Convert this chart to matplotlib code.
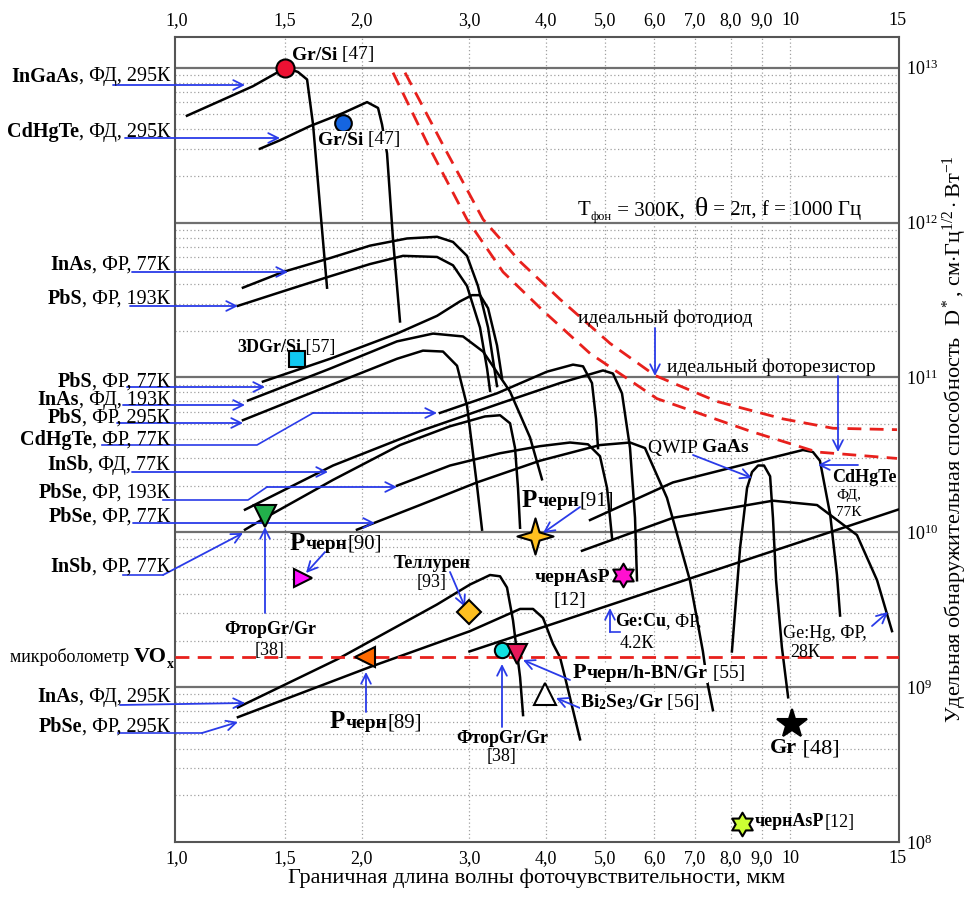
import matplotlib.pyplot as plt
from matplotlib.lines import Line2D
from matplotlib.path import Path
from matplotlib.ticker import NullLocator

plt.rcParams['font.family'] = ['Liberation Serif', 'DejaVu Serif']
plt.rcParams['mathtext.fontset'] = 'custom'
plt.rcParams['mathtext.rm'] = 'Liberation Serif'
plt.rcParams['mathtext.it'] = 'Liberation Serif:italic'
plt.rcParams['mathtext.bf'] = 'Liberation Serif:bold'

# cutoff wavelength (um) vs detectivity D* (cm Hz^1/2 / W)
ingaas_fd295_wl = [1.038, 1.175, 1.33, 1.456, 1.50, 1.575, 1.63, 1.667, 1.711, 1.757]
ingaas_fd295_d = [4.9e12, 6.1e12, 7.6e12, 9.3e12, 1.0e13, 9.4e12, 8.4e12, 4.3e12, 1.28e12, 3.8e11]

cdhgte_fd295_wl = [1.366, 1.472, 1.648, 1.866, 2.042, 2.128, 2.16, 2.201, 2.251, 2.311]
cdhgte_fd295_d = [3.0e12, 3.4e12, 4.2e12, 5.1e12, 6.0e12, 5.5e12, 4.3e12, 2.8e12, 7.8e11, 2.3e11]

inas_fr77_wl = [1.281, 1.489, 1.777, 2.065, 2.373, 2.656, 2.82, 2.972, 3.097, 3.217, 3.327]
inas_fr77_d = [3.8e11, 4.8e11, 5.9e11, 7.1e11, 7.9e11, 8.1e11, 7.5e11, 6.1e11, 3.9e11, 2.1e11, 8.8e10]

pbs_fr193_wl = [1.257, 1.489, 1.777, 2.065, 2.337, 2.656, 2.82, 2.972, 3.121, 3.205, 3.241]
pbs_fr193_d = [2.9e11, 3.6e11, 4.5e11, 5.4e11, 6.1e11, 6.0e11, 5.3e11, 3.9e11, 2.1e11, 1.14e11, 8.2e10]

pbs_fr77_wl = [1.381, 1.777, 2.285, 2.656, 2.895, 3.029, 3.121, 3.217, 3.327, 3.39]
pbs_fr77_d = [9.4e10, 1.32e11, 1.92e11, 2.5e11, 3.1e11, 3.4e11, 3.4e11, 2.8e11, 1.61e11, 9.9e10]

inas_fd193_wl = [1.306, 1.777, 2.285, 2.616, 2.928, 3.157, 3.494, 3.766, 3.939]
inas_fd193_d = [7.1e10, 1.14e11, 1.71e11, 1.92e11, 1.84e11, 1.47e11, 8.1e10, 4.1e10, 2.2e10]

pbs_fr295_wl = [1.281, 1.777, 2.285, 2.519, 2.716, 2.863, 2.972, 3.086, 3.145]
pbs_fr295_d = [5.3e10, 8.9e10, 1.32e11, 1.49e11, 1.47e11, 1.19e11, 6.6e10, 2.0e10, 1.04e10]

cdhgte_fr77_wl = [2.685, 3.327, 4.014, 4.426, 4.596, 4.753, 4.826, 4.862]
cdhgte_fr77_d = [5.9e10, 7.9e10, 1.09e11, 1.21e11, 1.18e11, 9.2e10, 5.4e10, 3.5e10]

insb_fd77_wl = [1.291, 1.797, 2.491, 3.365, 4.215, 4.954, 5.143, 5.32, 5.483, 5.587, 5.629]
insb_fd77_d = [1.40e10, 2.7e10, 4.5e10, 6.8e10, 9.2e10, 1.11e11, 1.06e11, 7.9e10, 3.5e10, 1.24e10, 4.9e9]

pbse_fr193_wl = [2.285, 2.789, 3.365, 3.911, 4.377, 4.683, 4.898, 5.03, 5.125]
pbse_fr193_d = [2.0e10, 2.7e10, 3.24e10, 3.6e10, 3.8e10, 3.7e10, 3.1e10, 1.93e10, 9.2e9]

pbse_fr77_wl = [1.966, 2.491, 3.086, 3.911, 4.898, 5.483, 5.80, 6.299, 6.866, 7.21, 7.319, 7.486]
pbse_fr77_d = [1.04e10, 1.5e10, 2.1e10, 2.9e10, 3.66e10, 3.8e10, 3.5e10, 1.67e10, 4.9e9, 1.7e9, 1.11e9, 7.1e8]

insb_fr77_wl = [1.291, 1.392, 1.797, 2.311, 2.789, 3.18, 3.365, 3.494, 3.56, 3.60, 3.628]
insb_fr77_d = [1.04e10, 1.24e10, 2.18e10, 3.66e10, 4.84e10, 5.6e10, 5.7e10, 5.06e10, 3.5e10, 1.93e10, 1.07e10]

inas_fd295_wl = [1.257, 1.824, 2.656, 3.006, 3.241, 3.365, 3.454, 3.533, 3.628, 3.669]
inas_fd295_d = [7.4e8, 1.51e9, 3.42e9, 4.6e9, 5.3e9, 5.2e9, 4.4e9, 2.7e9, 1.16e9, 6.6e8]

pbse_fr295_wl = [1.257, 2.065, 3.006, 3.628, 3.809, 3.954, 4.106, 4.215, 4.295, 4.426, 4.545]
pbse_fr295_d = [6.4e8, 1.35e9, 2.3e9, 3.2e9, 3.2e9, 2.8e9, 1.9e9, 1.56e9, 1.16e9, 7.1e8, 4.6e8]

gecu_fr4_wl = [3.0, 15.0]
gecu_fr4_d = [1.7e9, 1.4e10]

qwip_gaas_wl = [8.04, 8.29, 8.51, 8.67, 8.87, 9.07, 9.28, 9.38, 9.49, 9.70, 9.93]
qwip_gaas_d = [1.7e9, 7.9e9, 1.93e10, 2.45e10, 2.7e10, 2.7e10, 2.3e10, 1.24e10, 4.9e9, 1.81e9, 8.6e8]

cdhgte_fd77_wl = [4.718, 6.443, 8.29, 10.50, 10.90, 11.19, 11.63, 11.93, 12.07]
cdhgte_fd77_d = [1.2e10, 2.1e10, 2.7e10, 3.4e10, 3.3e10, 2.9e10, 1.30e10, 5.3e9, 2.9e9]

gehg_fr28_wl = [4.578, 6.443, 9.38, 11.07, 12.86, 13.87, 14.67]
gehg_fr28_d = [7.6e9, 1.24e10, 1.60e10, 1.50e10, 9.6e9, 4.9e9, 2.3e9]

# background-limited limits, T_bg = 300 K
ideal_pd_wl = [2.355, 2.736, 3.157, 3.628, 4.215, 5.087, 6.023, 7.60, 9.74, 11.75, 14.95]
ideal_pd_d = [9.3e12, 3.0e12, 1.05e12, 5.6e11, 3.2e11, 1.66e11, 1.03e11, 7.0e10, 5.4e10, 4.7e10, 4.6e10]
ideal_pr_wl = [2.251, 2.586, 2.972, 3.403, 3.954, 4.718, 6.067, 8.61, 11.07, 14.95]
ideal_pr_d = [9.3e12, 3.0e12, 1.05e12, 4.8e11, 2.7e11, 1.43e11, 7.3e10, 4.5e10, 3.3e10, 3.0e10]

vox_d = 1.56e9

# single devices: (wavelength, D*)
grsi_red = (1.50, 1.0e13)
grsi_blue = (1.866, 4.4e12)
gr3d_si = (1.57, 1.32e11)
ftorgr_top = (1.392, 1.28e10)
pblack_90 = (1.605, 5.1e9)
pblack_91 = (3.837, 9.5e9)
tellurene_93 = (3.0, 3.08e9)
bp_asp_12 = (5.341, 5.3e9)
pblack_89 = (2.026, 1.56e9)
ftorgr_low = (3.39, 1.73e9)
pblack_hbn_55 = (3.587, 1.63e9)
bi2se3_56 = (3.984, 9.0e8)
gr_48 = (10.08, 5.8e8)
bp_asp_12_low = (8.35, 1.30e8)

xticks = [1, 1.5, 2, 3, 4, 5, 6, 7, 8, 9, 10, 15]
xtick_labels = ['1,0', '1,5', '2,0', '3,0', '4,0', '5,0', '6,0', '7,0', '8,0', '9,0', '10', '15']
yticks = [1e8, 1e9, 1e10, 1e11, 1e12, 1e13]
ytick_labels = ['$10^{8}$', '$10^{9}$', '$10^{10}$', '$10^{11}$', '$10^{12}$', '$10^{13}$']

W, H = 969, 897
BLUE = '#2a3be8'
RED = '#e8201c'

fig = plt.figure(figsize=(W / 100, H / 100), dpi=100)
ax = fig.add_axes([175 / W, 1 - 842 / H, 724 / W, 805 / H])
ax.set_xscale('log')
ax.set_yscale('log')
ax.set_xlim(0.9925, 15.06)
ax.set_ylim(1.053e8, 1.58e13)

ax.set_xticks(xticks)
ax.set_xticklabels(xtick_labels)
ax.xaxis.set_minor_locator(NullLocator())
ax.tick_params(axis='x', which='both', length=0, top=True, labeltop=True, labelsize=13, pad=6)
ax.set_yticks(yticks)
ax.set_yticklabels(ytick_labels)
ax.yaxis.set_minor_locator(NullLocator())
ax.yaxis.tick_right()
ax.tick_params(axis='y', which='both', length=0, labelsize=13, pad=5)
for s in ax.spines.values():
    s.set_color('#555555')
    s.set_linewidth(1.5)

# grid
for x in xticks[1:-1]:
    ax.axvline(x, color='#a0a0a0', ls=(0, (1, 2)), lw=0.9, zorder=1)
for dec in yticks[:-1]:
    for k in range(2, 10):
        ax.axhline(k * dec, color='#a0a0a0', ls=(0, (1, 2)), lw=0.9, zorder=1)
for dec in yticks[1:]:
    ax.axhline(dec, color='#707070', lw=1.6, zorder=1)

curves = [
    (ingaas_fd295_wl, ingaas_fd295_d), (cdhgte_fd295_wl, cdhgte_fd295_d),
    (inas_fr77_wl, inas_fr77_d), (pbs_fr193_wl, pbs_fr193_d),
    (pbs_fr77_wl, pbs_fr77_d), (inas_fd193_wl, inas_fd193_d),
    (pbs_fr295_wl, pbs_fr295_d), (cdhgte_fr77_wl, cdhgte_fr77_d),
    (insb_fd77_wl, insb_fd77_d), (pbse_fr193_wl, pbse_fr193_d),
    (pbse_fr77_wl, pbse_fr77_d), (insb_fr77_wl, insb_fr77_d),
    (inas_fd295_wl, inas_fd295_d), (pbse_fr295_wl, pbse_fr295_d),
    (gecu_fr4_wl, gecu_fr4_d), (qwip_gaas_wl, qwip_gaas_d),
    (cdhgte_fd77_wl, cdhgte_fd77_d), (gehg_fr28_wl, gehg_fr28_d),
]
for wl, d in curves:
    ax.plot(wl, d, color='black', lw=1.8, zorder=3, solid_joinstyle='round')

ax.plot(ideal_pd_wl, ideal_pd_d, color=RED, lw=2, ls=(0, (5, 3)), zorder=3)
ax.plot(ideal_pr_wl, ideal_pr_d, color=RED, lw=2, ls=(0, (5, 3)), zorder=3)
ax.axhline(vox_d, color=RED, lw=2, ls=(0, (5, 3)), zorder=3)

star4 = Path.unit_regular_star(4, 0.32)
star6 = Path.unit_regular_star(6, 0.58)


def mark(pt, marker, color, ms, **kw):
    ax.plot([pt[0]], [pt[1]], marker=marker, color=color, ms=ms, mec='black',
            mew=1.5, ls='none', zorder=6, clip_on=False, **kw)


mark(grsi_red, 'o', '#ee1133', 13)
mark(grsi_blue, 'o', '#1565e0', 12)
mark(gr3d_si, 's', '#10c8f0', 11)
mark(ftorgr_top, 'v', '#22b04b', 16)
mark(pblack_90, '>', '#ff10ff', 13)
mark(pblack_91, star4, '#ffc020', 26)
mark(tellurene_93, 'D', '#ffc020', 12)
mark(bp_asp_12, star6, '#ff10d0', 17)
mark(pblack_89, '<', '#ff6a00', 15)
mark(ftorgr_low, 'o', '#10e0e0', 11)
mark(pblack_hbn_55, 'v', '#e8185a', 15)
mark(bi2se3_56, '^', 'white', 16)
mark(gr_48, '*', 'black', 22)
mark(bp_asp_12_low, star6, '#ccff33', 17)

ax.set_xlabel('Граничная длина волны фоточувствительности, мкм', fontsize=16, labelpad=1)
ax.yaxis.set_label_position('right')
ax.set_ylabel(r'Удельная обнаружительная способность  $\mathrm{D}^*$, см$\cdot$Гц$^{1/2}\cdot$Вт$^{-1}$',
              fontsize=16, labelpad=2)


def fx(px, py):
    return (px / W, 1 - py / H)


def rich(px, py, parts, size=14, ha='left', **kw):
    # chain of text pieces on one baseline: (text, bold[, size[, shift in points]])
    seq = parts if ha == 'left' else parts[::-1]
    anchor = (1, 0) if ha == 'left' else (0, 0)
    last, last_fs, last_dy = None, size, 0
    for part in seq:
        s, bold = part[0], part[1]
        fs = part[2] if len(part) > 2 else size
        dy = part[3] if len(part) > 3 else 0
        w = 'bold' if bold else 'normal'
        if last is None:
            last = fig.text(*fx(px, py), s, fontsize=fs, fontweight=w, ha=ha, va='center', **kw)
        else:
            # lift from the previous box bottom up to the common baseline
            last = ax.annotate(s, xy=anchor, xycoords=last, xytext=(0, 0.22 * last_fs - last_dy + dy),
                               textcoords='offset points', ha=ha, va='baseline', fontsize=fs,
                               fontweight=w, annotation_clip=False, **kw)
        last_fs, last_dy = fs, dy
    return last


def arrow(*pts):
    xs = [p[0] / W for p in pts]
    ys = [1 - p[1] / H for p in pts]
    if len(pts) > 2:
        fig.add_artist(Line2D(xs[:-1], ys[:-1], transform=fig.transFigure, color=BLUE, lw=1.2))
    ax.annotate('', xy=(xs[-1], ys[-1]), xytext=(xs[-2], ys[-2]),
                xycoords='figure fraction', textcoords='figure fraction',
                arrowprops=dict(arrowstyle='->, head_length=0.7, head_width=0.35', color=BLUE, lw=1.3,
                                shrinkA=0, shrinkB=0),
                annotation_clip=False)


# detector labels on the left
left_labels = [
    (77, [('InGaAs', True), (', ФД, 295К', False)], [(113, 85), (245, 85)]),
    (132, [('CdHgTe', True), (', ФД, 295К', False)], [(125, 138), (280, 138)]),
    (265, [('InAs', True), (', ФР, 77К', False)], [(132, 272), (288, 272)]),
    (299, [('PbS', True), (', ФР, 193К', False)], [(130, 306), (238, 306)]),
    (382, [('PbS', True), (', ФР, 77К', False)], [(127, 387), (265, 387)]),
    (400, [('InAs', True), (', ФД, 193К', False)], [(123, 405), (245, 405)]),
    (418, [('PbS', True), (', ФР, 295К', False)], [(117, 423), (243, 423)]),
    (440, [('CdHgTe', True), (', ФР, 77К', False)], [(102, 445), (257, 445), (313, 413), (437, 413)]),
    (465, [('InSb', True), (', ФД, 77К', False)], [(132, 472), (328, 472)]),
    (493, [('PbSe', True), (', ФР, 193К', False)], [(163, 500), (248, 500), (267, 487), (397, 487)]),
    (517, [('PbSe', True), (', ФР, 77К', False)], [(133, 523), (375, 523)]),
    (567, [('InSb', True), (', ФР, 77К', False)], [(123, 575), (163, 575), (243, 533)]),
    (697, [('InAs', True), (', ФД, 295К', False)], [(120, 705), (245, 703)]),
    (727, [('PbSe', True), (', ФР, 295К', False)], [(118, 733), (202, 733), (238, 722)]),
]
for py, parts, pts in left_labels:
    rich(170, py, parts, size=14.5, ha='right')
    arrow(*pts)

rich(174, 664, [('микроболометр ', False, 13), ('VO', True, 16), ('x', True, 10, -4)], ha='right')

# labels for single devices
wb = dict(fc='white', ec='none', pad=0.3)
rich(292, 55, [('Gr/Si', True), (' [47]', False)], size=14)
rich(318, 140, [('Gr/Si', True), (' [47]', False)], size=14, bbox=wb)
rich(237, 347, [('3DGr/Si', True), (' [57]', False)], size=13)
fig.text(*fx(270, 630), 'ФторGr/Gr', fontsize=13, fontweight='bold', ha='center', va='center')
fig.text(*fx(270, 651), '[38]', fontsize=13, ha='center', va='center')
arrow((265, 613), (265, 527))
rich(290, 543, [('Р', True, 18), ('черн', True, 14), ('[90]', False, 15)])
arrow((325, 552), (306, 573))
fig.text(*fx(432, 563), 'Теллурен', fontsize=13, fontweight='bold', ha='center', va='center')
fig.text(*fx(432, 583), '[93]', fontsize=13, ha='center', va='center')
arrow((450, 572), (465, 607))
rich(522, 500, [('Р', True, 18), ('черн', True, 14), ('[91]', False, 15)])
arrow((580, 507), (543, 533))
fig.text(*fx(610, 577), 'чернAsP', fontsize=14, fontweight='bold', ha='right', va='center')
fig.text(*fx(570, 600), '[12]', fontsize=14, ha='center', va='center')
rich(615, 622, [('Ge:Cu', True), (', ФР,', False)], size=13)
fig.text(*fx(620, 643), '4.2К', fontsize=13, ha='left', va='center')
arrow((620, 632), (610, 632), (610, 608))
fig.text(*fx(783, 633), 'Ge:Hg, ФР,', fontsize=13, ha='left', va='center')
fig.text(*fx(790, 652), '28К', fontsize=13, ha='left', va='center')
arrow((872, 626), (888, 612))
rich(648, 448, [('QWIP ', False), ('GaAs', True)], size=14)
arrow((693, 455), (752, 478))
fig.text(*fx(832, 477), 'CdHgTe', fontsize=13, fontweight='bold', ha='left', va='center')
fig.text(*fx(836, 495), 'ФД,', fontsize=11, ha='left', va='center')
fig.text(*fx(836, 512), '77К', fontsize=11, ha='left', va='center')
arrow((858, 465), (818, 465))
fig.text(*fx(578, 318), 'идеальный фотодиод', fontsize=14, ha='left', va='center')
arrow((655, 328), (655, 376))
fig.text(*fx(667, 367), 'идеальный фоторезистор', fontsize=14, ha='left', va='center')
arrow((838, 376), (838, 452))
rich(578, 210, [('T', False, 15), ('фон', False, 9, -4), (' = 300К,  ', False, 15), ('θ', False, 20),
                (' = 2π, f = 1000 Гц', False, 15)])
rich(573, 673, [('Р', True, 16), ('черн/h-BN/Gr', True, 14), (' [55]', False, 14)], bbox=wb)
arrow((570, 680), (523, 660))
fig.text(*fx(580, 702), r'$\mathbf{Bi_2Se_3/Gr}$ [56]', fontsize=14, ha='left', va='center', bbox=wb)
arrow((580, 708), (556, 698))
fig.text(*fx(502, 738), 'ФторGr/Gr', fontsize=13, fontweight='bold', ha='center', va='center')
fig.text(*fx(502, 757), '[38]', fontsize=13, ha='center', va='center')
arrow((502, 727), (502, 664))
rich(330, 722, [('Р', True, 18), ('черн', True, 14), ('[89]', False, 15)])
arrow((366, 712), (366, 672))
rich(770, 748, [('Gr', True), (' [48]', False)], size=16)
rich(755, 822, [('чернAsP', True), ('[12]', False)], size=13)

fig.savefig('out.png', dpi=100)
